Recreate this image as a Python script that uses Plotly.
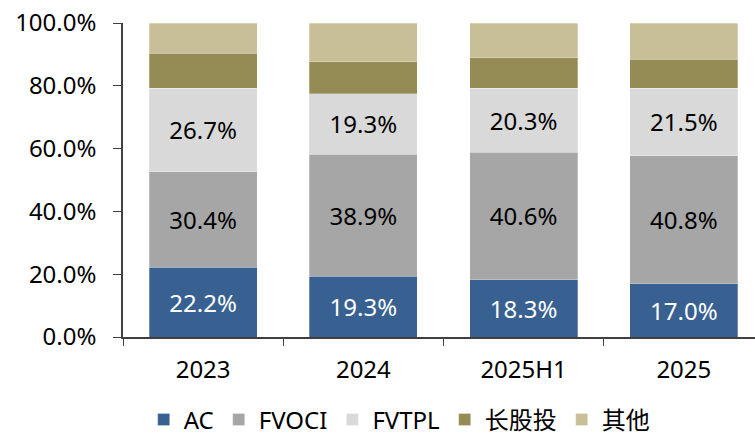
import plotly.graph_objects as go

years = ['2023', '2024', '2025H1', '2025']

ac = [22.2, 19.3, 18.3, 17.0]
fvoci = [30.4, 38.9, 40.6, 40.8]
fvtpl = [26.7, 19.3, 20.3, 21.5]
cgt = [11.0, 10.2, 9.7, 9.2]       # 长股投
other = [9.7, 12.3, 11.1, 11.5]    # 其他

series = [
    ('AC', ac, '#386192', 'white', True),
    ('FVOCI', fvoci, '#A6A6A6', 'black', True),
    ('FVTPL', fvtpl, '#D9D9D9', 'black', True),
    ('长股投', cgt, '#958B54', 'black', False),
    ('其他', other, '#C8BF98', 'black', False),
]

font = 'Noto Sans, Noto Sans CJK SC, sans-serif'

fig = go.Figure()
for name, vals, color, tcolor, show_text in series:
    fig.add_trace(go.Bar(
        x=years, y=vals, name=name,
        marker=dict(color=color, line=dict(color='rgba(255,255,255,0.35)', width=0.8)),
        texttemplate='%{y:.1f}%' if show_text else None,
        textposition='inside' if show_text else 'none',
        insidetextanchor='middle',
        textfont=dict(color=tcolor, size=24, family=font),
    ))

fig.update_layout(
    barmode='stack',
    bargap=0.325,
    width=755, height=436,
    margin=dict(l=123, r=0, t=23, b=99, autoexpand=False),
    plot_bgcolor='white', paper_bgcolor='white',
    font=dict(family=font, size=24, color='black'),
    uniformtext=dict(minsize=10, mode='show'),
    legend=dict(orientation='h', x=0.437, xanchor='center',
                y=-0.264, yanchor='middle',
                font=dict(size=24), itemwidth=30, traceorder='normal'),
    showlegend=True,
)
fig.update_xaxes(
    range=[-0.5, 3.444],
    showline=True, linecolor='#404040', linewidth=1.5,
    ticks='outside', tickson='boundaries', ticklen=7, tickcolor='#404040',
    ticklabelstandoff=10,
    tickfont=dict(size=24),
)
fig.update_yaxes(
    range=[0, 100],
    tickvals=[0, 20, 40, 60, 80, 100],
    ticktext=['0.0%', '20.0%', '40.0%', '60.0%', '80.0%', '100.0%'],
    showline=True, linecolor='#404040', linewidth=1.5,
    ticks='outside', ticklen=8, tickcolor='#404040',
    ticklabelstandoff=12, ticklabeloverflow='allow',
    showgrid=False, zeroline=False,
    tickfont=dict(size=24),
)

# drop the default 8px page margin so the figure fills the window
fig.write_html('out.html', config={'displayModeBar': False},
               post_script="document.body.style.margin='0';")
